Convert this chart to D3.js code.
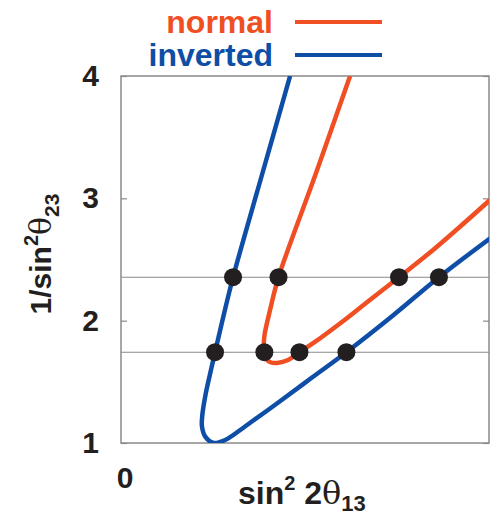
<!DOCTYPE html>
<html>
<head>
<meta charset="utf-8">
<script src="https://cdn.jsdelivr.net/npm/d3@7"></script>
<style>
  body { margin: 0; background: white; }
  text { font-family: "Liberation Sans", Arial, Helvetica, sans-serif; font-weight: bold; }
</style>
</head>
<body>
<svg id="chart" width="490" height="515"></svg>
<script>
// curves: [sin^2 2theta13, 1/sin^2 theta23]
const invertedCurve = [
  [0.0919, 4.0], [0.0769, 3.207], [0.0609, 2.355], [0.0557, 2.038], [0.0511, 1.742],
  [0.0484, 1.564], [0.0459, 1.392], [0.0442, 1.229], [0.0440, 1.135], [0.0458, 1.052],
  [0.0503, 1.0], [0.0544, 1.012], [0.0583, 1.038], [0.0674, 1.135], [0.0853, 1.329],
  [0.1038, 1.535], [0.1225, 1.742], [0.1478, 2.042], [0.1728, 2.355], [0.2005, 2.672]
];
const normalCurve = [
  [0.1245, 4.0], [0.1060, 3.207], [0.0856, 2.355], [0.0810, 2.087], [0.0780, 1.883],
  [0.0776, 1.801], [0.0779, 1.742], [0.0791, 1.683], [0.0815, 1.658], [0.0848, 1.654],
  [0.0908, 1.678], [0.0970, 1.742], [0.1054, 1.826], [0.1190, 1.977], [0.1335, 2.148],
  [0.1511, 2.355], [0.1696, 2.578], [0.1825, 2.745], [0.2005, 2.986]
];
const refLevels = [2.355, 1.742];
const points = [
  [0.0609, 2.355], [0.0856, 2.355], [0.1511, 2.355], [0.1728, 2.355],
  [0.0511, 1.742], [0.0779, 1.742], [0.0970, 1.742], [0.1225, 1.742]
];
const yTicks = [1, 2, 3, 4];
const legendNames = ["normal", "inverted"];

const orange = "#f04e23";
const blue = "#0e4ea6";
const gray = "#8a8a8a";

const margin = {top: 76, left: 121};
const width = 368, height = 367;

const svg = d3.select("#chart");

const x = d3.scaleLinear().domain([0, 0.2]).range([margin.left, margin.left + width]);
const y = d3.scaleLinear().domain([1, 4]).range([margin.top + height, margin.top]);

svg.append("defs").append("clipPath").attr("id", "plotclip")
  .append("rect")
  .attr("x", margin.left).attr("y", margin.top)
  .attr("width", width).attr("height", height);

// reference lines
svg.selectAll(".ref")
  .data(refLevels)
  .enter().append("line")
  .attr("x1", margin.left).attr("x2", margin.left + width)
  .attr("y1", d => y(d)).attr("y2", d => y(d))
  .style("stroke", gray).style("stroke-width", 1.2);

// axes
const yAxis = svg.append("g")
  .attr("transform", `translate(${margin.left},0)`)
  .call(d3.axisLeft(y).tickValues(yTicks).tickFormat(d3.format("d")).tickSizeInner(-6).tickSizeOuter(0).tickPadding(22));
yAxis.select(".domain").remove();
yAxis.selectAll("line").style("stroke", gray).style("stroke-width", 1.2);
yAxis.selectAll("text").style("font-size", "30px").style("fill", "#231f20")
  .style("font-family", "'Liberation Sans', Arial, sans-serif").style("font-weight", "bold");

const yAxisR = svg.append("g")
  .attr("transform", `translate(${margin.left + width},0)`)
  .call(d3.axisRight(y).tickValues(yTicks).tickFormat("").tickSizeInner(-6).tickSizeOuter(0));
yAxisR.select(".domain").remove();
yAxisR.selectAll("line").style("stroke", gray).style("stroke-width", 1.2);

// frame
svg.append("rect")
  .attr("x", margin.left).attr("y", margin.top)
  .attr("width", width).attr("height", height)
  .style("fill", "none").style("stroke", gray).style("stroke-width", 1.5);

svg.append("text")
  .attr("x", x(0) + 4).attr("y", 488)
  .attr("text-anchor", "middle")
  .style("font-size", "30px").style("fill", "#231f20")
  .text("0");

// curves
const line = d3.line().x(d => x(d[0])).y(d => y(d[1])).curve(d3.curveCatmullRom.alpha(0.5));
const curves = svg.append("g").attr("clip-path", "url(#plotclip)");
curves.append("path").datum(invertedCurve)
  .attr("d", line)
  .style("fill", "none").style("stroke", blue).style("stroke-width", 4.5);
curves.append("path").datum(normalCurve)
  .attr("d", line)
  .style("fill", "none").style("stroke", orange).style("stroke-width", 4.5);

// points
svg.selectAll(".pt")
  .data(points)
  .enter().append("circle")
  .attr("cx", d => x(d[0])).attr("cy", d => y(d[1]))
  .attr("r", 9)
  .style("fill", "#231f20");

// legend
const legendColors = [orange, blue];
const legend = svg.selectAll(".leg")
  .data(legendNames)
  .enter().append("g");
legend.append("text")
  .attr("x", 273).attr("y", (d, i) => 33 + i * 33)
  .attr("text-anchor", "end")
  .style("font-size", "32px")
  .style("fill", (d, i) => legendColors[i])
  .text(d => d);
legend.append("line")
  .attr("x1", 295).attr("x2", 382)
  .attr("y1", (d, i) => 22 + i * 33).attr("y2", (d, i) => 22 + i * 33)
  .style("stroke", (d, i) => legendColors[i]).style("stroke-width", 4);

// x label
const xl = svg.append("text")
  .attr("x", 238).attr("y", 504)
  .style("font-size", "32px").style("fill", "#231f20");
xl.append("tspan").text("sin");
xl.append("tspan").attr("dy", -14).style("font-size", "20px").text("2");
xl.append("tspan").attr("dy", 14).text(" 2");
xl.append("tspan").style("font-weight", "normal").style("font-family", "'DejaVu Serif', serif").text("θ");
xl.append("tspan").attr("dy", 7).style("font-size", "22px").text("13");

// y label
const yl = svg.append("text")
  .attr("transform", "translate(51,254) rotate(-90)")
  .attr("text-anchor", "middle")
  .style("font-size", "30px").style("fill", "#231f20");
yl.append("tspan").text("1/sin");
yl.append("tspan").attr("dy", -13).style("font-size", "20px").text("2");
yl.append("tspan").attr("dy", 13).style("font-weight", "normal").style("font-family", "'DejaVu Serif', serif").text("θ");
yl.append("tspan").attr("dy", 8).style("font-size", "21px").text("23");
</script>
</body>
</html>
